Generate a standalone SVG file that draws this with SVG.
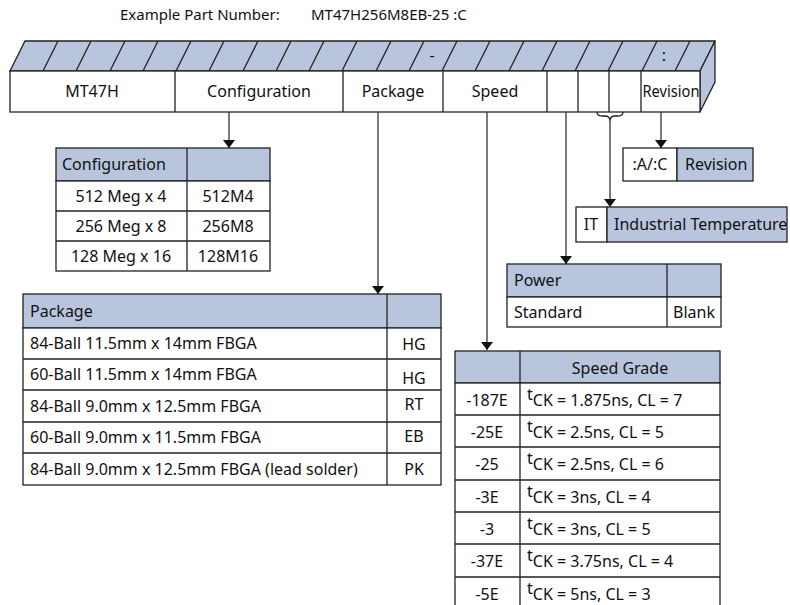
<svg xmlns="http://www.w3.org/2000/svg" width="790" height="605" viewBox="0 0 790 605">
<defs>
<marker id="arr" viewBox="0 0 8 12" refX="8" refY="6" markerWidth="8" markerHeight="12" markerUnits="userSpaceOnUse" orient="auto">
<path d="M0,0 L8,6 L0,12 Z" fill="#111"/>
</marker>
<style>
text{font-family:"Noto Sans","Open Sans","Liberation Sans",sans-serif;font-size:16px;fill:#111}
.t{font-size:15px}
.b{fill:#b9c5dd;stroke:#222;stroke-width:1.3}
.w{fill:#fff;stroke:#222;stroke-width:1.3}
.l{stroke:#222;stroke-width:1.3;fill:none}
.c{text-anchor:middle}
.cn{stroke:#333;stroke-width:1.3;fill:none;marker-end:url(#arr)}
</style>
</defs>
<g id="title">
<text x="120" y="20" class="t">Example Part Number:</text>
<text x="311" y="20" class="t">MT47H256M8EB-25 :C</text>
</g>
<g id="banner">
<polygon class="b" points="10,71 25,41 715,41 700,71"/>
<polygon class="b" points="700,71 715,41 715,82 700,112"/>
<rect class="w" x="10" y="71" width="690" height="41"/>
<path class="l" d="M43,71 l15,-30 M76,71 l15,-30 M110,71 l15,-30 M143,71 l15,-30 M176,71 l15,-30 M209,71 l15,-30 M243,71 l15,-30 M276,71 l15,-30 M309,71 l15,-30 M342,71 l15,-30 M376,71 l15,-30 M409,71 l15,-30 M442,71 l15,-30 M475,71 l15,-30 M509,71 l15,-30 M542,71 l15,-30 M575,71 l15,-30 M608,71 l15,-30 M642,71 l15,-30 M675,71 l15,-30"/>
<path class="l" d="M175,71 V112 M343,71 V112 M443,71 V112 M547,71 V112 M578,71 V112 M609,71 V112 M641,71 V112"/>
<text x="432" y="61" class="c">-</text>
<text x="664" y="61" class="c">:</text>
<text x="92" y="97" class="c">MT47H</text>
<text x="259" y="97" class="c">Configuration</text>
<text x="393" y="97" class="c">Package</text>
<text x="495" y="97" class="c">Speed</text>
<text x="671" y="97" class="c" textLength="57" lengthAdjust="spacingAndGlyphs">Revision</text>
</g>
<g id="connectors">
<path class="l" d="M597,112 q0,4 5,4 h3 q5,0 5,5 q0,-5 5,-5 h3 q5,0 5,-4"/>
<line class="cn" x1="229" y1="112" x2="229" y2="148"/>
<line class="cn" x1="378" y1="112" x2="378" y2="294"/>
<line class="cn" x1="487" y1="112" x2="487" y2="350"/>
<line class="cn" x1="566" y1="112" x2="566" y2="264"/>
<line class="cn" x1="610" y1="121" x2="610" y2="207"/>
<line class="cn" x1="661" y1="112" x2="661" y2="148"/>
</g>
<g id="revision">
<rect class="w" x="623" y="148" width="54" height="33"/>
<rect class="b" x="677" y="148" width="76" height="33"/>
<text x="650" y="170" class="c">:A/:C</text>
<text x="685" y="170">Revision</text>
</g>
<g id="temperature">
<rect class="w" x="576" y="207" width="31" height="35"/>
<rect class="b" x="607" y="207" width="180" height="35"/>
<text x="591" y="230" class="c">IT</text>
<text x="614" y="230">Industrial Temperature</text>
</g>
<g id="configuration">
<rect class="b" x="56" y="148" width="214" height="33"/>
<rect class="w" x="56" y="181" width="214" height="90"/>
<path class="l" d="M187,148 V271 M56,211 H270 M56,241 H270"/>
<text x="62" y="170">Configuration</text>
<text x="121" y="202" class="c">512 Meg x 4</text>
<text x="228" y="202" class="c">512M4</text>
<text x="121" y="232" class="c">256 Meg x 8</text>
<text x="228" y="232" class="c">256M8</text>
<text x="121" y="262" class="c">128 Meg x 16</text>
<text x="228" y="262" class="c">128M16</text>
</g>
<g id="package">
<rect class="b" x="23" y="294" width="418" height="34"/>
<rect class="w" x="23" y="328" width="418" height="157"/>
<path class="l" d="M387,294 V485 M23,359 H441 M23,390 H441 M23,422 H441 M23,453 H441"/>
<text x="30" y="317">Package</text>
<text x="30" y="349">84-Ball 11.5mm x 14mm FBGA</text>
<text x="414" y="350" class="c">HG</text>
<text x="30" y="380">60-Ball 11.5mm x 14mm FBGA</text>
<text x="414" y="384" class="c">HG</text>
<text x="30" y="412">84-Ball 9.0mm x 12.5mm FBGA</text>
<text x="414" y="410" class="c">RT</text>
<text x="30" y="443">60-Ball 9.0mm x 11.5mm FBGA</text>
<text x="414" y="442" class="c">EB</text>
<text x="30" y="475">84-Ball 9.0mm x 12.5mm FBGA (lead solder)</text>
<text x="414" y="475" class="c">PK</text>
</g>
<g id="power">
<rect class="b" x="507" y="264" width="214" height="33"/>
<rect class="w" x="507" y="297" width="214" height="30"/>
<line class="l" x1="667" y1="264" x2="667" y2="327"/>
<text x="514" y="286">Power</text>
<text x="514" y="318">Standard</text>
<text x="694" y="318" class="c">Blank</text>
</g>
<g id="speed">
<rect class="b" x="455" y="351" width="265" height="32"/>
<rect class="w" x="455" y="383" width="265" height="230"/>
<path class="l" d="M520,351 V605 M455,415 H720 M455,447 H720 M455,480 H720 M455,512 H720 M455,544 H720 M455,577 H720"/>
<text x="620" y="374" class="c">Speed Grade</text>
<text x="487" y="406" class="c">-187E</text>
<text x="487" y="438" class="c">-25E</text>
<text x="487" y="470" class="c">-25</text>
<text x="487" y="503" class="c">-3E</text>
<text x="487" y="535" class="c">-3</text>
<text x="487" y="567" class="c">-37E</text>
<text x="487" y="600" class="c">-5E</text>
<text x="527" y="406"><tspan dy="-6">t</tspan><tspan dy="6">CK = 1.875ns, CL = 7</tspan></text>
<text x="527" y="438"><tspan dy="-6">t</tspan><tspan dy="6">CK = 2.5ns, CL = 5</tspan></text>
<text x="527" y="470"><tspan dy="-6">t</tspan><tspan dy="6">CK = 2.5ns, CL = 6</tspan></text>
<text x="527" y="503"><tspan dy="-6">t</tspan><tspan dy="6">CK = 3ns, CL = 4</tspan></text>
<text x="527" y="535"><tspan dy="-6">t</tspan><tspan dy="6">CK = 3ns, CL = 5</tspan></text>
<text x="527" y="567"><tspan dy="-6">t</tspan><tspan dy="6">CK = 3.75ns, CL = 4</tspan></text>
<text x="527" y="600"><tspan dy="-6">t</tspan><tspan dy="6">CK = 5ns, CL = 3</tspan></text>
</g>
</svg>
